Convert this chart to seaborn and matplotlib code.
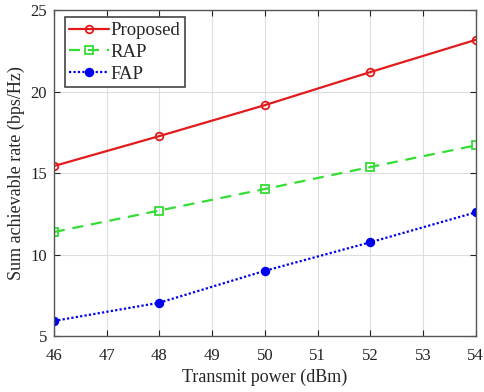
import pandas as pd
import matplotlib
matplotlib.use("Agg")
import matplotlib.pyplot as plt
import seaborn as sns

power = [46, 48, 50, 52, 54]
proposed = [15.43, 17.27, 19.17, 21.2, 23.18]
rap = [11.38, 12.7, 14.02, 15.37, 16.7]
fap = [5.92, 7.04, 9.0, 10.75, 12.59]

sns.set_style("whitegrid")
plt.rcParams['font.family'] = ['Liberation Serif', 'DejaVu Serif']

fig = plt.figure(figsize=(4.85, 3.92), dpi=100)
ax = fig.add_axes([0.111, 0.143, 0.870, 0.831])

series = [
    ("Proposed", proposed, "#e31a1c", "-", "o", "none"),
    ("RAP", rap, "#33dd33", (0, (5, 3.5)), "s", "none"),
    ("FAP", fap, "#0000ee", (0, (1, 1)), "o", "#0000ee"),
]
for name, vals, color, ls, mk, mfc in series:
    df = pd.DataFrame({"x": power, "y": vals})
    sns.lineplot(data=df, x="x", y="y", ax=ax, color=color, linestyle=ls,
                 marker=mk, markersize=5.5, markerfacecolor=mfc,
                 markeredgecolor=color, markeredgewidth=1.3, linewidth=1.6,
                 label=name)

ax.set_xlim(46, 54)
ax.set_ylim(5, 25)
ax.set_xticks(range(46, 55))
ax.set_yticks([5, 10, 15, 20, 25])
ax.grid(True, color="#dddddd", linewidth=0.8)
for s in ax.spines.values():
    s.set_color("#555555")
    s.set_linewidth(1.0)
ax.tick_params(direction="in", length=4, colors="#222222", labelsize=12,
               top=True, right=True, bottom=True, left=True)
ax.tick_params(axis="x", pad=9)
ax.tick_params(axis="y", pad=5)
ax.set_xlabel("Transmit power (dBm)", fontsize=13, labelpad=3)
ax.set_ylabel("Sum achievable rate (bps/Hz)", fontsize=13, labelpad=4)

leg = ax.legend(loc="upper left", bbox_to_anchor=(0.026, 0.978), fontsize=13.5,
                frameon=True, fancybox=False, framealpha=1, edgecolor="#444444",
                borderpad=0.25, labelspacing=0.25, handlelength=2.1,
                handletextpad=0.1, borderaxespad=0)
leg.get_frame().set_linewidth(1.2)

fig.savefig("out.png", dpi=100)
